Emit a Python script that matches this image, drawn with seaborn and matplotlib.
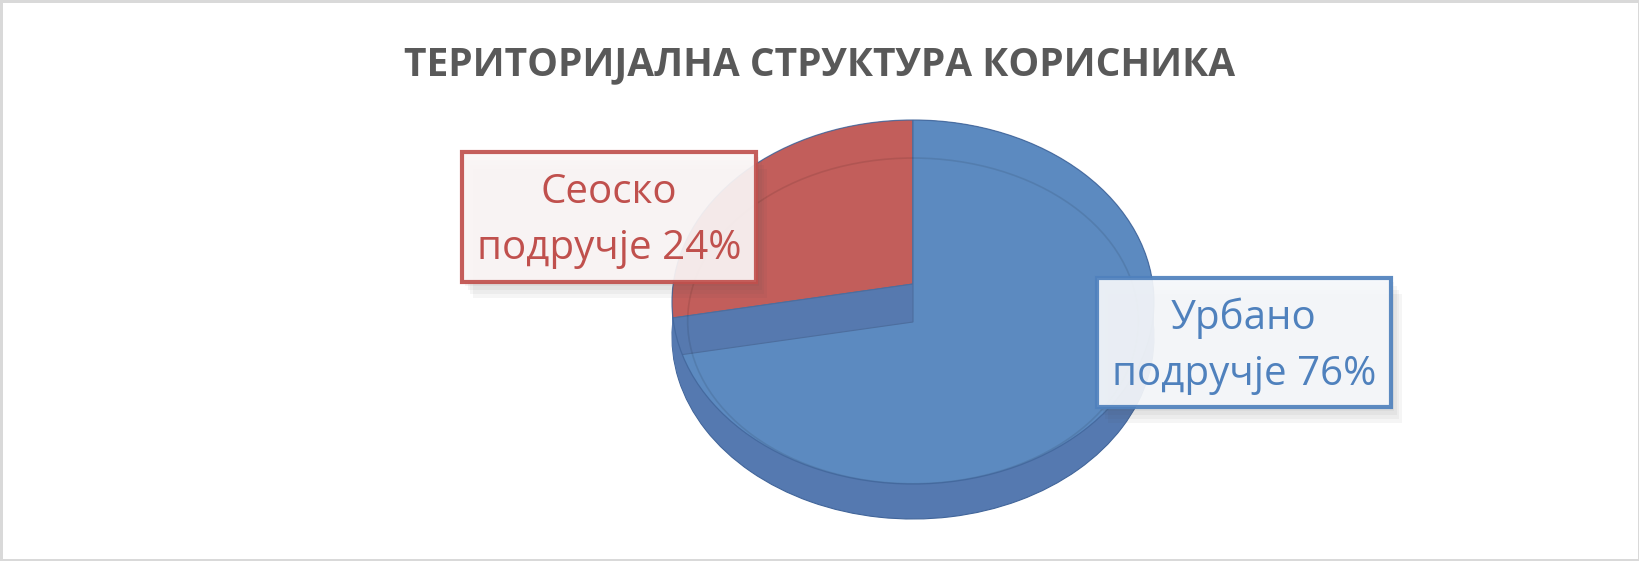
import numpy as np
import matplotlib
matplotlib.use('Agg')
import matplotlib.pyplot as plt
import matplotlib.patches as mpatches
import matplotlib.patheffects as pe
import matplotlib.transforms as mtransforms
import seaborn as sns

# DATA
title = 'ТЕРИТОРИЈАЛНА СТРУКТУРА КОРИСНИКА'
categories = ['Сеоско подручје', 'Урбано подручје']
shares = [24, 76]

top_colors = ['#C25E5B', '#5C8AC0']
edge_colors = ['#C0504D', '#4F81BD']
box_faces = ['#FBF6F6', '#F6F8FB']
band_color = '#5679AF'
side_color = '#5579B0'
outline_color = '#41659A'

sns.set_theme(style='white')
plt.rcParams['font.family'] = ['Open Sans', 'DejaVu Sans']

W, H = 1640, 561
fig = plt.figure(figsize=(W / 100, H / 100), dpi=100)
fig.patch.set_facecolor('white')
fig.patch.set_edgecolor('#D9D9D9')
fig.patch.set_linewidth(2.5)

# pie geometry in pixels (top face centre, radii, extrusion)
CX, CY, RX, RY = 913, 302, 241, 182
DEPTH = 35 / RY
RED_LIFT = 18 / RY
BLUE_DROP = 20 / RY
SHEAR = 0.25

ax = fig.add_axes([0, 0, 1, 1])

# extruded side
for t in np.linspace(DEPTH, 0, 30):
    w, _ = ax.pie(shares, colors=[side_color] * 2, startangle=90,
                  radius=1, center=(0, -t), wedgeprops=dict(linewidth=0))
    if t == DEPTH:
        for p in w:
            p.set_edgecolor(outline_color)
            p.set_linewidth(0.8)

clip = mpatches.Circle((0, 0), 1, transform=ax.transData, visible=False)
ax.add_patch(clip)
shear = mtransforms.Affine2D().skew(0, np.arctan(SHEAR))


def clip_to_face(patches):
    for p in patches:
        p.set_transform(shear + ax.transData)
        p.set_clip_on(True)
        p.set_clip_path(clip)


# top face: red slice and the blue cut wall under it
w1, _ = ax.pie(shares, colors=[top_colors[0], band_color], startangle=90,
               radius=1.8, center=(0, RED_LIFT),
               wedgeprops=dict(linewidth=0.8, edgecolor='#4D6E9E'))
clip_to_face(w1)

# top face: blue slice
w2, _ = ax.pie(shares, colors=['none', top_colors[1]], startangle=90,
               radius=1.8, center=(0, -BLUE_DROP),
               wedgeprops=dict(linewidth=0.8, edgecolor='#4D6E9E'))
w2[0].set_visible(False)
clip_to_face(w2)

# bevel ring and outline of the top face
ring = mpatches.Ellipse((0, -0.104), 1.87, 1.79, fill=False,
                        edgecolor='black', alpha=0.09, linewidth=1.2)
ax.add_patch(ring)
ring.set_clip_path(clip)
ax.add_patch(mpatches.Circle((0, 0), 1, fill=False, edgecolor=outline_color,
                             linewidth=0.9, alpha=0.8))

ax.set_aspect('auto')
ax.set_xlim(-CX / RX, (W - CX) / RX)
ax.set_ylim(-(H - CY) / RY, CY / RY)
ax.axis('off')

# title
fig.text(0.5, 1 - 65 / H, title, ha='center', va='center', fontsize=28,
         fontweight='bold', color='#595959')

# data labels
box_centres = [(609, 217), (1244, 342)]
BW, BH = 294, 129
soft_shadow = [pe.SimplePatchShadow(offset=(k, -1.5 * k), alpha=0.05)
               for k in (2, 4, 6, 8)] + [pe.Normal()]
for cat, val, (bx, by), ec, fc in zip(categories, shares, box_centres,
                                      edge_colors, box_faces):
    first, rest = cat.split(' ', 1)
    label = f'{first}\n{rest} {val}%'
    rect = mpatches.Rectangle(((bx - BW / 2) / W, 1 - (by + BH / 2) / H),
                              BW / W, BH / H, transform=fig.transFigure,
                              facecolor=fc, edgecolor=ec, linewidth=3,
                              alpha=0.92, zorder=5)
    rect.set_path_effects(soft_shadow)
    fig.add_artist(rect)
    fig.text(bx / W, 1 - (by + 4) / H, label, ha='center', va='center',
             fontsize=29, color=ec, linespacing=1.5, zorder=6)

fig.savefig('out.png', dpi=100)
